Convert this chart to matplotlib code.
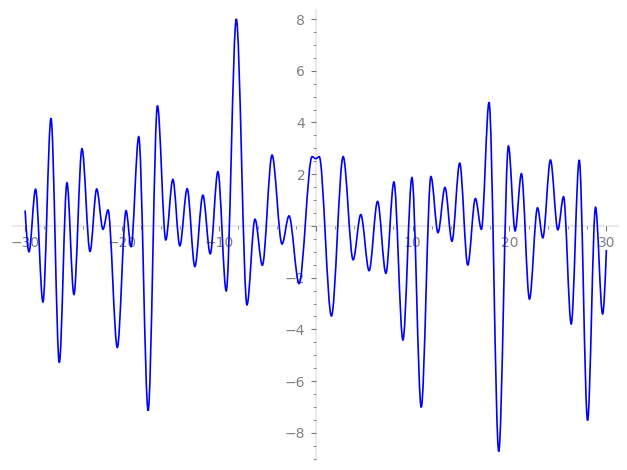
import matplotlib
matplotlib.use("Agg")
import matplotlib.pyplot as plt
from matplotlib.path import Path
from matplotlib.patches import PathPatch
from matplotlib.ticker import MultipleLocator, FuncFormatter

# Curve: end points and local extrema (x, y)
x_pts = [-30.0, -29.6, -28.92, -28.16, -27.33, -26.47, -25.68, -24.96, -24.13, -23.3,
         -22.61, -21.96, -21.44, -20.48, -19.58, -19.06, -18.27, -17.30, -16.34, -15.48,
         -14.75, -14.03, -13.27, -12.48, -11.65, -10.89, -10.10, -9.24, -8.2, -7.10,
         -6.27, -5.51, -4.51, -3.48, -2.76, -1.72, -0.38, 0.0, 0.36, 1.62,
         2.83, 3.86, 4.65, 5.51, 6.38, 7.24, 8.07, 9.0, 9.93, 10.89,
         11.89, 12.62, 13.34, 14.06, 14.86, 15.69, 16.48, 17.1, 17.89, 18.89,
         19.89, 20.58, 21.23, 22.06, 22.89, 23.44, 24.23, 24.99, 25.58, 26.37,
         27.2, 28.06, 28.88, 29.61, 30.0]
y_pts = [0.6, -1.0, 1.42, -2.94, 4.16, -5.28, 1.67, -2.65, 2.99, -0.99,
         1.43, -0.13, 0.62, -4.70, 0.59, -0.80, 3.45, -7.14, 4.65, -0.54,
         1.80, -0.77, 1.44, -1.57, 1.19, -1.08, 2.10, -2.51, 8.0, -3.05,
         0.26, -1.52, 2.74, -0.70, 0.39, -2.23, 2.68, 2.60, 2.68, -3.48,
         2.68, -1.31, 0.44, -1.73, 0.95, -1.83, 1.70, -4.41, 1.87, -7.01,
         1.91, -0.26, 1.49, -0.59, 2.43, -1.51, 1.06, -0.13, 4.78, -8.72,
         3.09, -0.19, 2.02, -2.83, 0.70, -0.46, 2.55, -0.15, 1.13, -3.79,
         2.55, -7.52, 0.72, -3.40, -0.93]

fig = plt.figure(figsize=(6.27, 4.70), dpi=100)
ax = fig.add_axes([13 / 627, 10 / 470, 605 / 627, 450 / 470])

# smooth curve through the read points (horizontal tangents at extrema)
n = len(x_pts)
slopes = [0.0] * n
slopes[0] = 1.6 * (y_pts[1] - y_pts[0]) / (x_pts[1] - x_pts[0])
slopes[-1] = 1.6 * (y_pts[-1] - y_pts[-2]) / (x_pts[-1] - x_pts[-2])
verts = [(x_pts[0], y_pts[0])]
codes = [Path.MOVETO]
for i in range(n - 1):
    x0, y0, x1, y1 = x_pts[i], y_pts[i], x_pts[i + 1], y_pts[i + 1]
    d = (x1 - x0) / 3.0
    verts += [(x0 + d, y0 + slopes[i] * d), (x1 - d, y1 - slopes[i + 1] * d), (x1, y1)]
    codes += [Path.CURVE4] * 3
ax.add_patch(PathPatch(Path(verts, codes), fill=False, edgecolor="blue", lw=1.2, zorder=3))

ax.set_xlim(-31.25, 31.2)
ax.set_ylim(-9.05, 8.35)

for s in ["top", "right"]:
    ax.spines[s].set_visible(False)
ax.spines["left"].set_position(("data", 0))
ax.spines["bottom"].set_position(("data", 0))
for s in ["left", "bottom"]:
    ax.spines[s].set_color("#e6e6e6")
    ax.spines[s].set_linewidth(1.2)
    ax.spines[s].set_zorder(1)

ax.xaxis.set_major_locator(MultipleLocator(10))
ax.xaxis.set_minor_locator(MultipleLocator(2))
ax.yaxis.set_major_locator(MultipleLocator(2))
ax.yaxis.set_minor_locator(MultipleLocator(0.5))
fmt = FuncFormatter(lambda v, p: "" if abs(v) < 1e-9 else f"{int(round(v))}".replace("-", "\u2212"))
ax.xaxis.set_major_formatter(fmt)
ax.yaxis.set_major_formatter(fmt)
ax.tick_params(which="major", length=3.5, width=0.8, color="#777777", labelcolor="#808080",
               labelsize=10, pad=4)
ax.tick_params(which="minor", length=2.2, width=0.6, color="#777777")
ax.patch.set_visible(False)

fig.savefig("out.png", dpi=100)
